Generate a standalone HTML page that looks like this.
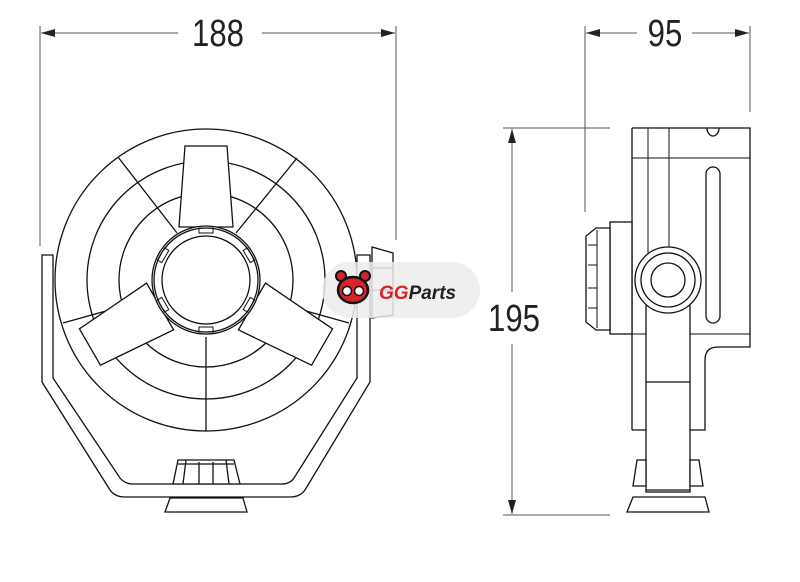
<!DOCTYPE html>
<html><head><meta charset="utf-8"><style>
html,body{margin:0;padding:0;background:#fff;}
svg{display:block;}
text{font-family:"Liberation Sans",Arial,sans-serif;}
</style></head><body>
<svg width="800" height="582" viewBox="0 0 800 582" xmlns="http://www.w3.org/2000/svg">
<defs>
<marker id="ar" markerWidth="14" markerHeight="8" refX="14" refY="4" orient="auto" markerUnits="userSpaceOnUse">
<path d="M0,0 L14,4 L0,8 Z" fill="#222"/></marker>
</defs>
<g stroke="#555" stroke-width="1" fill="none">
<line x1="40" y1="26" x2="40" y2="246"/>
<line x1="396" y1="26" x2="396" y2="240"/>
<line x1="178" y1="33" x2="41" y2="33" marker-end="url(#ar)"/>
<line x1="262" y1="33" x2="395" y2="33" marker-end="url(#ar)"/>
<line x1="585" y1="26" x2="585" y2="212"/>
<line x1="750" y1="26" x2="750" y2="112"/>
<line x1="637" y1="33" x2="586" y2="33" marker-end="url(#ar)"/>
<line x1="692" y1="33" x2="749" y2="33" marker-end="url(#ar)"/>
<line x1="503" y1="128" x2="610" y2="128"/>
<line x1="503" y1="515" x2="610" y2="515"/>
<line x1="512" y1="292" x2="512" y2="129" marker-end="url(#ar)"/>
<line x1="512" y1="344" x2="512" y2="514" marker-end="url(#ar)"/>
</g>
<g fill="#222" font-size="38">
<text transform="translate(218,46) scale(0.82,1)" text-anchor="middle">188</text>
<text transform="translate(665,46) scale(0.82,1)" text-anchor="middle">95</text>
<text transform="translate(514,331) scale(0.82,1)" text-anchor="middle">195</text>
</g>

<g stroke="#111" stroke-width="1.3" fill="none">
<path d="M42,255 H53 V378 L120,478 Q125,484 133,484 H282 Q290,484 294,478 L357,378 V255 H370 V382 L305,490 Q300,497 290,497 H125 Q115,497 110,490 L42,382 Z" fill="#fff"/>
<circle cx="206" cy="280" r="151" fill="#fff"/>
<circle cx="206" cy="280" r="119"/>
<circle cx="206" cy="280" r="87"/>
<line x1="118" y1="157" x2="177" y2="233"/>
<line x1="297" y1="158" x2="236" y2="233"/>
<line x1="206" y1="337" x2="206" y2="431"/>
<line x1="63" y1="323" x2="156" y2="297"/>
<line x1="349" y1="323" x2="256" y2="297"/>
<g fill="#fff">
<polygon points="185,146 227,146 233,227 179,227"/>
<polygon points="185,146 227,146 233,227 179,227" transform="rotate(120 206 280)"/>
<polygon points="185,146 227,146 233,227 179,227" transform="rotate(240 206 280)"/>
</g>
<circle cx="206" cy="280" r="54" fill="#fff"/>
<circle cx="206" cy="280" r="52"/>
<circle cx="206" cy="280" r="44"/>
<g stroke-width="1">
<rect x="199" y="228" width="14" height="5" transform="rotate(0 206 280)"/>
<rect x="199" y="228" width="14" height="5" transform="rotate(60 206 280)"/>
<rect x="199" y="228" width="14" height="5" transform="rotate(120 206 280)"/>
<rect x="199" y="228" width="14" height="5" transform="rotate(180 206 280)"/>
<rect x="199" y="228" width="14" height="5" transform="rotate(240 206 280)"/>
<rect x="199" y="228" width="14" height="5" transform="rotate(300 206 280)"/>
</g>
<polygon points="178,460 234,460 240,484 173,484" fill="#fff"/>
<line x1="178" y1="464" x2="234" y2="464"/>
<line x1="186" y1="460" x2="183" y2="484"/><line x1="199" y1="462" x2="199" y2="484"/>
<line x1="213" y1="462" x2="213" y2="484"/><line x1="226" y1="460" x2="229" y2="484"/>
<polygon points="170,498 243,498 247,512 165,512" fill="#fff"/>
<path d="M372,247 L393,253 V315 L372,318 Z" fill="#fff"/>
<line x1="372" y1="268" x2="393" y2="268"/><line x1="372" y1="290" x2="393" y2="290"/>
</g>

<g stroke="#111" stroke-width="1.3" fill="none">
<path d="M632,128 H750 V347 H718 Q705,347 705,360 V430 H690 M646,430 H632 Z" fill="#fff"/>
<line x1="632" y1="128" x2="632" y2="430"/>
<line x1="632" y1="158" x2="750" y2="158" stroke-width="1"/>
<line x1="632" y1="334" x2="750" y2="334" stroke-width="1"/>
<line x1="648" y1="128" x2="648" y2="262" stroke-width="1"/>
<line x1="669" y1="128" x2="669" y2="247" stroke-width="1"/>
<rect x="706" y="167" width="14" height="156" rx="7"/>
<path d="M707,128 A6,8 0 0 0 719,128"/>
<rect x="610" y="222" width="22" height="112" fill="#fff"/>
<path d="M610,228 H596 L586,236 V322 L596,330 H610 Z" fill="#fff"/>
<g stroke-width="1">
<line x1="588" y1="245" x2="597" y2="245"/><line x1="588" y1="265" x2="597" y2="265"/>
<line x1="588" y1="288" x2="597" y2="288"/><line x1="588" y1="308" x2="597" y2="308"/>
<line x1="597" y1="230" x2="597" y2="328"/>
</g>
<rect x="646" y="290" width="44" height="202" fill="#fff"/>
<line x1="646" y1="382" x2="690" y2="382"/>
<line x1="646" y1="490" x2="690" y2="490"/>
<polygon points="633,497 705,497 709,512 627,512" fill="#fff"/>
<polygon points="637,460 646,460 646,486 633,486" fill="#fff"/>
<polygon points="690,460 699,460 703,486 690,486" fill="#fff"/>
<circle cx="668" cy="280" r="33" fill="#fff"/>
<circle cx="668" cy="280" r="27"/>
<circle cx="668" cy="280" r="17"/>
</g>

<rect x="322" y="262" width="158" height="56" rx="28" fill="#ececec" opacity="0.85"/>
<g transform="translate(337,273)">
<circle cx="4" cy="3" r="5" fill="#d8232a" stroke="#111" stroke-width="2"/>
<circle cx="28" cy="3" r="5" fill="#d8232a" stroke="#111" stroke-width="2"/>
<ellipse cx="16" cy="17" rx="15" ry="13" fill="#d8232a" stroke="#111" stroke-width="2.5"/>
<circle cx="10" cy="18" r="4.5" fill="#fff" stroke="#111" stroke-width="1.5"/>
<circle cx="22" cy="18" r="4.5" fill="#fff" stroke="#111" stroke-width="1.5"/>
</g>
<text x="379" y="299" font-size="19" font-weight="bold" font-style="italic" fill="#d8232a">GG<tspan fill="#222">Parts</tspan></text>
</svg>
</body></html>
